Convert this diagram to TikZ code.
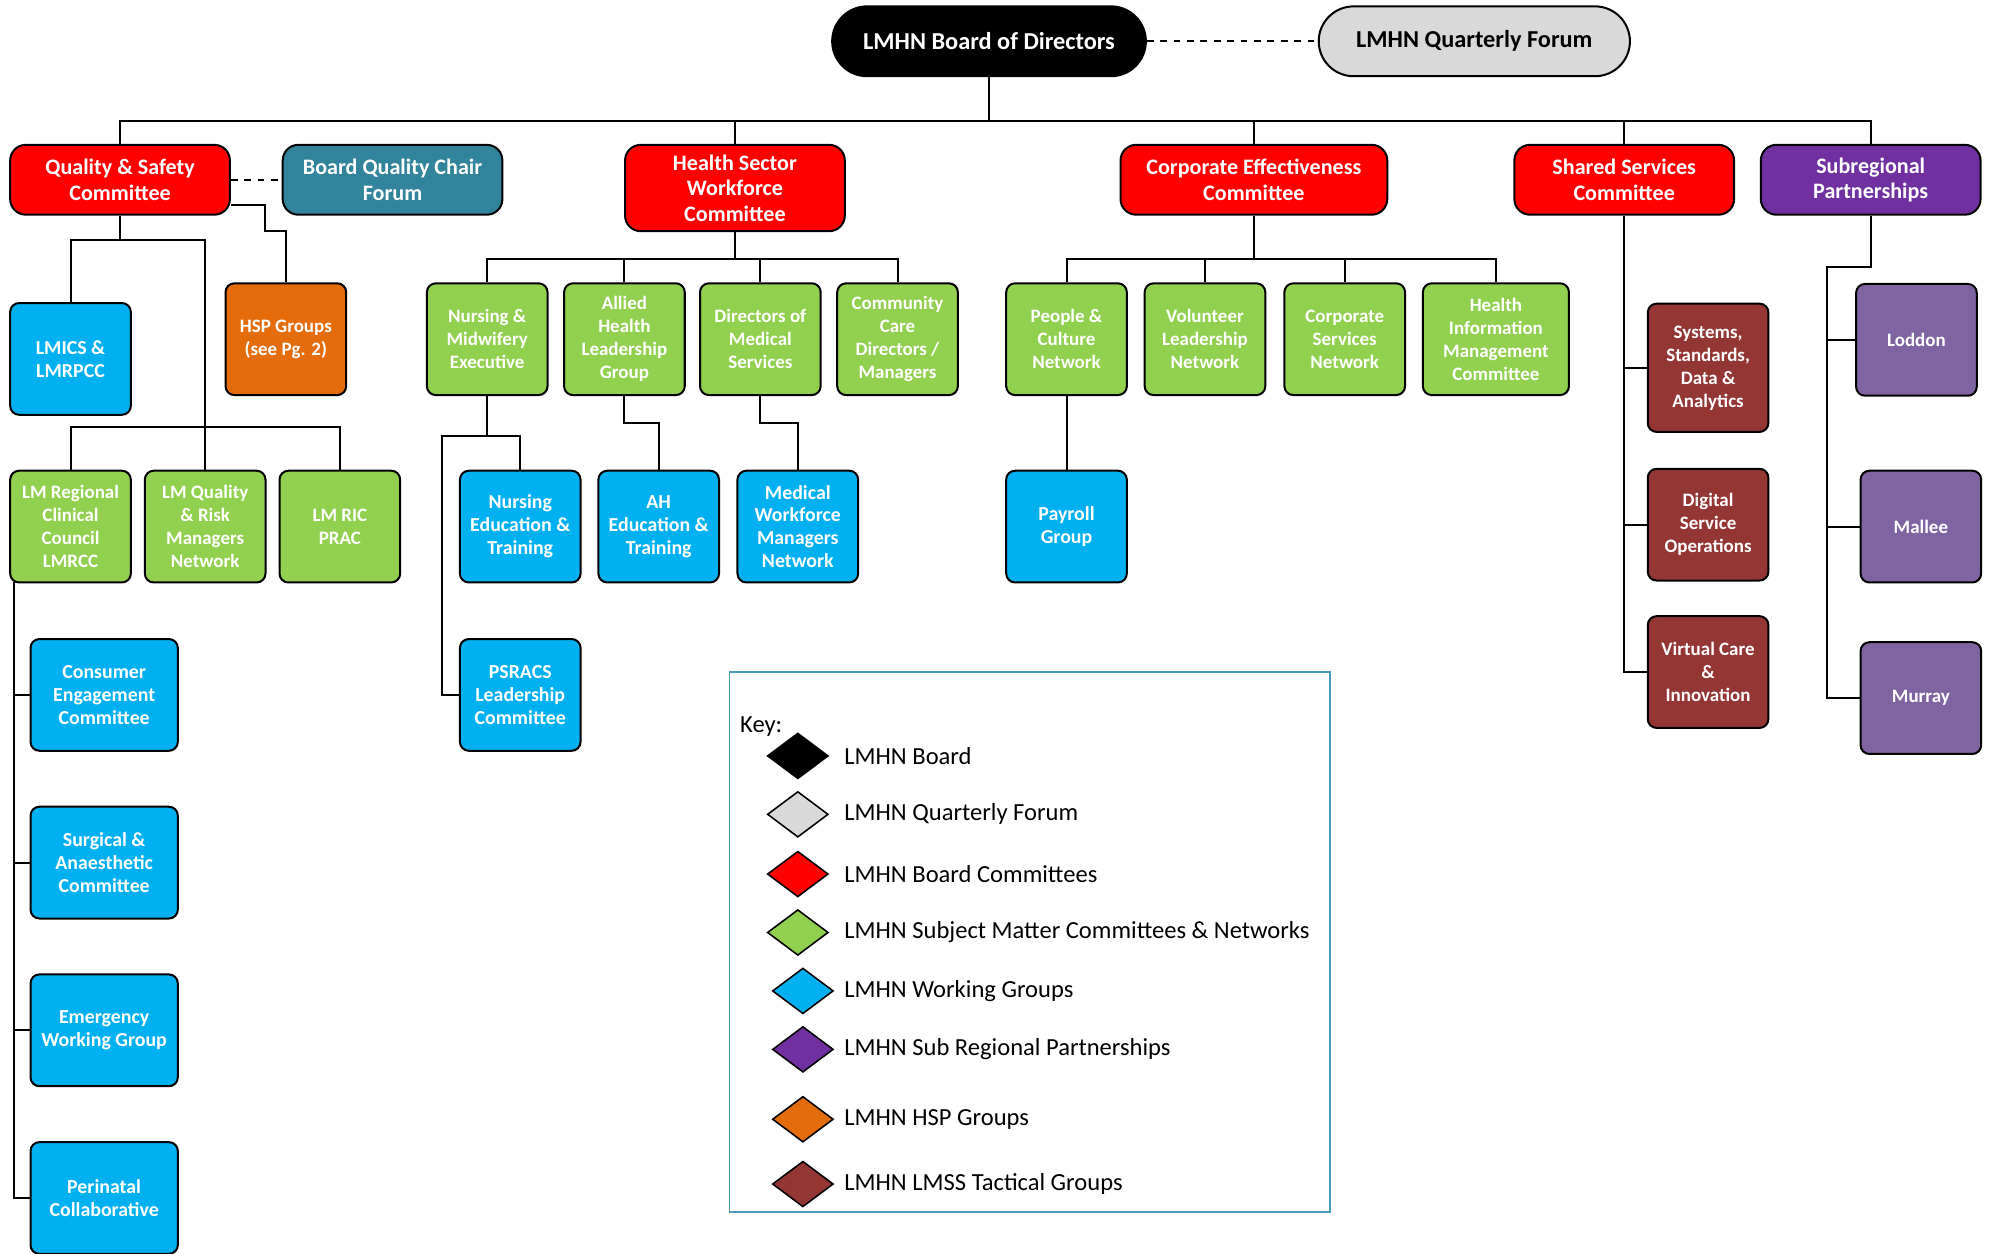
\documentclass[tikz,border=0pt]{standalone}
\usepackage{fontspec}
\setmainfont{Carlito}
\usepackage{tikz}
\usetikzlibrary{shapes.geometric, positioning}
\definecolor{lmred}{HTML}{FF0000}
\definecolor{lmgreen}{HTML}{92D050}
\definecolor{lmblue}{HTML}{00B0F0}
\definecolor{lmteal}{HTML}{31849B}
\definecolor{lmpurple}{HTML}{7030A0}
\definecolor{lmregion}{HTML}{8064A2}
\definecolor{lmbrown}{HTML}{943634}
\definecolor{lmorange}{HTML}{E46C0A}
\definecolor{lmgray}{HTML}{D9D9D9}
\definecolor{lmkey}{HTML}{4A9BB5}

\begin{document}
\begin{tikzpicture}[x=0.02cm, y=-0.02cm, line width=0.9pt,
  orgbox/.style={rectangle, rounded corners=4pt, draw=black, line width=0.9pt, text=white,
    align=center, font=\fontsize{8.5}{10.3}\selectfont\bfseries,
    minimum width=1.9cm, minimum height=1.76cm, inner sep=1pt},
  cmte/.style={orgbox, rounded corners=7pt, fill=lmred, minimum width=3.46cm,
    minimum height=1.1cm, font=\fontsize{9.9}{11.4}\selectfont\bfseries},
  headbox/.style={cmte, rounded corners=0.55cm, minimum width=4.94cm,
    font=\fontsize{10.9}{12}\selectfont\bfseries},
  sme/.style={orgbox, fill=lmgreen},
  wg/.style={orgbox, fill=lmblue, font=\fontsize{8.9}{10.3}\selectfont\bfseries},
  lmss/.style={orgbox, fill=lmbrown},
  region/.style={orgbox, fill=lmregion},
  widebox/.style={minimum width=2.32cm},
  keydia/.style={diamond, draw=black, line width=0.7pt, minimum width=0.96cm,
    minimum height=0.72cm, inner sep=0pt},
  keytxt/.style={anchor=west, font=\fontsize{11}{12}\selectfont}
]
  \useasboundingbox (0,0) rectangle (1568,987);

  % board level
  \node[headbox, fill=black] (board) at (778.5,32.5) {LMHN Board of Directors};
  \node[headbox, fill=lmgray, text=black, minimum width=4.9cm] (forum) at (1160.5,32.5) {LMHN Quarterly Forum};

  \node[cmte] (qs) at (94.5,141.5) {Quality \& Safety\\Committee};
  \node[cmte, fill=lmteal] (bqcf) at (309,141.5) {Board Quality Chair\\Forum};
  \node[cmte, minimum height=1.36cm] (hswc) at (578.5,148) {Health Sector\\Workforce\\Committee};
  \node[cmte, minimum width=4.2cm] (cec) at (987,141.5) {Corporate Effectiveness\\Committee};
  \node[cmte] (ssc) at (1278.5,141.5) {Shared Services\\Committee};
  \node[cmte, fill=lmpurple] (srp) at (1472.5,141.5) {Subregional\\Partnerships};

  % quality & safety
  \node[wg] (lmics) at (55.5,282.5) {LMICS \&\\LMRPCC};
  \node[orgbox, fill=lmorange] (hsp) at (225,267) {HSP Groups\\(see Pg. 2)};
  \node[sme] (lmrcc) at (55.5,414.5) {LM Regional\\Clinical\\Council\\LMRCC};
  \node[sme] (lmqrm) at (161.5,414.5) {LM Quality\\\& Risk\\Managers\\Network};
  \node[sme] (lmric) at (267.5,414.5) {LM RIC\\PRAC};
  \node[wg, widebox] (cons) at (82,547) {Consumer\\Engagement\\Committee};
  \node[wg, widebox] (surg) at (82,679) {Surgical \&\\Anaesthetic\\Committee};
  \node[wg, widebox] (emerg) at (82,811) {Emergency\\Working Group};
  \node[wg, widebox] (peri) at (82,943) {Perinatal\\Collaborative};

  % health sector workforce
  \node[sme] (nme) at (383.5,267) {Nursing \&\\Midwifery\\Executive};
  \node[sme] (ahlg) at (491.5,267) {Allied\\Health\\Leadership\\Group};
  \node[sme] (dms) at (598.5,267) {Directors of\\Medical\\Services};
  \node[sme] (ccdm) at (706.5,267) {Community\\Care\\Directors /\\Managers};
  \node[wg] (net) at (409.5,414.5) {Nursing\\Education \&\\Training};
  \node[wg] (ahet) at (518.5,414.5) {AH\\Education \&\\Training};
  \node[wg] (mwmn) at (628,414.5) {Medical\\Workforce\\Managers\\Network};
  \node[wg] (psracs) at (409.5,547) {PSRACS\\Leadership\\Committee};

  % corporate effectiveness
  \node[sme] (pcn) at (839.5,267) {People \&\\Culture\\Network};
  \node[sme] (vln) at (948.5,267) {Volunteer\\Leadership\\Network};
  \node[sme] (csn) at (1058.5,267) {Corporate\\Services\\Network};
  \node[sme, minimum width=2.3cm] (himc) at (1177.5,267) {Health\\Information\\Management\\Committee};
  \node[wg] (payroll) at (839.5,414.5) {Payroll\\Group};

  % shared services and subregions
  \node[lmss, minimum height=2.02cm] (ssda) at (1344.5,289.5) {Systems,\\Standards,\\Data \&\\Analytics};
  \node[lmss] (dso) at (1344.5,413) {Digital\\Service\\Operations};
  \node[lmss] (vci) at (1344.5,529) {Virtual Care\\\&\\Innovation};
  \node[region] (loddon) at (1508.5,267.5) {Loddon};
  \node[region] (mallee) at (1512,414.5) {Mallee};
  \node[region] (murray) at (1512,549.5) {Murray};

  % connectors
  \coordinate (topbus) at (778.5,95);
  \draw[dashed] (board.east) -- (forum.west);
  \draw[dashed] (qs.east) -- (bqcf.west);
  \draw (board.south) -- (topbus);
  \draw (qs.north) |- (topbus) -| (srp.north);
  \foreach \c in {hswc, cec, ssc} \draw (\c.north) -- (\c.north |- topbus);

  \coordinate (qsj) at (94.5,189);
  \coordinate (lmbus) at (161.5,336);
  \coordinate (lmspine) at (11,458);
  \draw (qs.south) -- (qsj);
  \draw (lmics.north) |- (qsj) -| (lmbus);
  \draw (lmrcc.north) |- (lmbus) -| (lmric.north);
  \draw (lmqrm.north) -- (lmbus);
  \draw ([yshift=-0.4cm]qs.east) -| ++(27,20) -| (hsp.north);
  \draw (lmspine) |- (peri.west);
  \foreach \n in {cons, surg, emerg} \draw (\n.west) -- (\n.west -| lmspine);

  \coordinate (hsj) at (578.5,204);
  \coordinate (nmleft) at (348,343);
  \draw (hswc.south) -- (hsj);
  \draw (nme.north) |- (hsj) -| (ccdm.north);
  \foreach \n in {ahlg, dms} \draw (\n.north) -- (\n.north |- hsj);
  \draw (nme.south) |- (nmleft) |- (psracs.west);
  \draw (nme.south |- nmleft) -| (net.north);
  \draw (ahlg.south) -- ++(0,21) -| (ahet.north);
  \draw (dms.south) -- ++(0,21) -| (mwmn.north);

  \coordinate (cej) at (987,204);
  \draw (cec.south) -- (cej);
  \draw (pcn.north) |- (cej) -| (himc.north);
  \foreach \n in {vln, csn} \draw (\n.north) -- (\n.north |- cej);
  \draw (pcn.south) -- (payroll.north);

  \draw (ssc.south) |- (vci.west);
  \foreach \n in {ssda, dso} \draw (\n.west) -- (\n.west -| ssc.south);

  \coordinate (srpspine) at (1438,210);
  \draw (srp.south) |- (srpspine) |- (murray.west);
  \foreach \n in {loddon, mallee} \draw (\n.west) -- (\n.west -| srpspine);

  % key
  \node[draw=lmkey, line width=0.7pt, minimum width=9.46cm, minimum height=8.5cm] (keybox) at (810.5,741.5) {};
  \node[keytxt] (keyhead) at (576,572) {Key:};
  \foreach \x/\y/\col/\txt [count=\i] in {
      628/595/black/LMHN Board,
      628/641/lmgray/LMHN Quarterly Forum,
      628/688/lmred/LMHN Board Committees,
      628/734/lmgreen/LMHN Subject Matter Committees \& Networks,
      632/780/lmblue/LMHN Working Groups,
      632/826/lmpurple/LMHN Sub Regional Partnerships,
      632/881/lmorange/LMHN HSP Groups,
      632/932/lmbrown/LMHN LMSS Tactical Groups} {
    \node[keydia, fill=\col] (k\i) at (\x,\y) {};
    \node[keytxt] (k\i t) at (658,\y) {\txt};
  }
\end{tikzpicture}
\end{document}
